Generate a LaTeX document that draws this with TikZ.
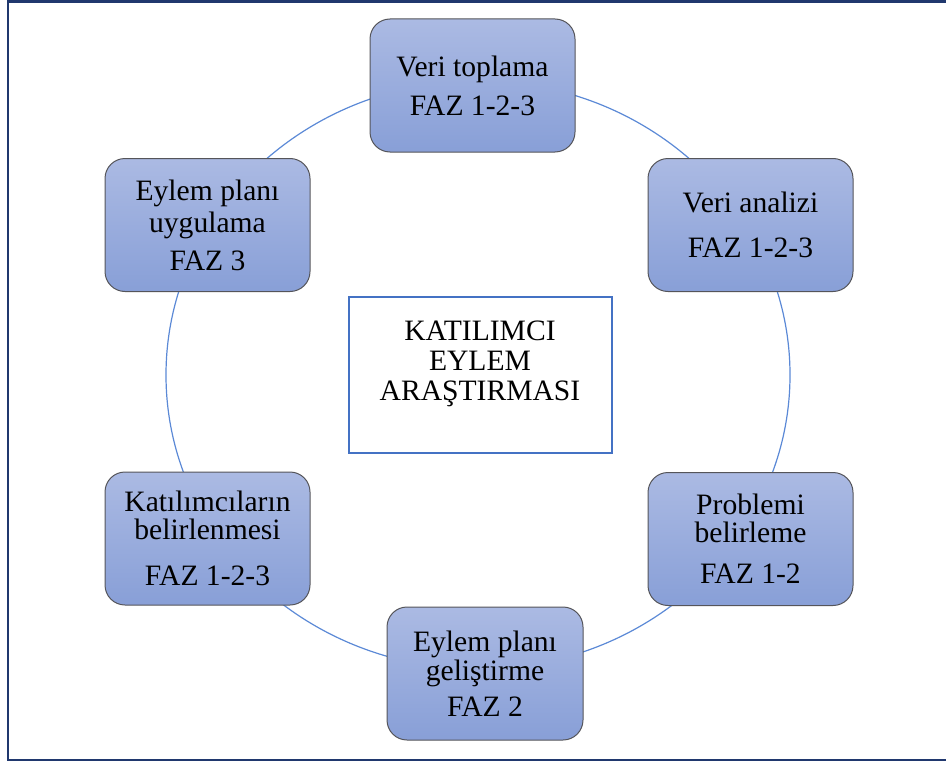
\documentclass[tikz,border=0pt]{standalone}
\usepackage{fontspec}
\setmainfont{Liberation Serif}

\definecolor{framenavy}{RGB}{32,56,110}
\definecolor{ringblue}{RGB}{91,137,214}
\definecolor{boxtop}{RGB}{171,186,227}
\definecolor{boxbottom}{RGB}{136,159,215}
\definecolor{boxedge}{RGB}{85,85,90}
\definecolor{parblue}{RGB}{68,114,196}

\tikzset{
  outerframe/.style={draw=framenavy, line width=1.2pt},
  ring/.style={draw=ringblue, line width=0.6pt},
  phase/.style={rectangle, rounded corners=10pt, draw=boxedge, line width=0.5pt,
    top color=boxtop, bottom color=boxbottom, minimum width=102.5pt,
    minimum height=66.5pt, inner sep=0pt, align=center,
    font=\fontsize{14.8}{14.5}\selectfont},
  parbox/.style={rectangle, draw=parblue, line width=1pt, fill=white,
    minimum width=131.5pt, minimum height=78pt},
  partext/.style={align=center, font=\fontsize{14.8}{15}\selectfont}
}

\begin{document}
\begin{tikzpicture}[x=0.5pt, y=-0.5pt]
\useasboundingbox (0,0) rectangle (946,765);
% outer frame (right side runs off the page)
\draw[outerframe] (8,1.5) rectangle (952,760);
% the cycle ring
\coordinate (ringcentre) at (478,375);
\draw[ring] (ringcentre) ellipse [x radius=156pt, y radius=147pt];
% centre box
\node[parbox] (par) at (480,375) {};
\node[partext] (partitle) at (480,364) {KATILIMCI\\EYLEM\\ARAŞTIRMASI};
% phases round the ring
\node[phase] (toplama) at (472.5,85.5) {Veri toplama\\[5pt]FAZ 1-2-3};
\node[phase] (analiz) at (750.5,225) {Veri analizi\\[8pt]FAZ 1-2-3};
\node[phase] (problem) at (750.5,539) {Problemi\\[-0.5pt]belirleme\\[6pt]FAZ 1-2};
\node[phase, minimum width=98pt] (gelistirme) at (485,673.5) {Eylem planı\\geliştirme\\[3.5pt]FAZ 2};
\node[phase] (katilimci) at (207.5,538.5) {Katılımcıların\\[-0.5pt]belirlenmesi\\[8.5pt]FAZ 1-2-3};
\node[phase] (uygulama) at (207.5,225) {Eylem planı\\[1.5pt]uygulama\\[4.5pt]FAZ 3};
\end{tikzpicture}
\end{document}
